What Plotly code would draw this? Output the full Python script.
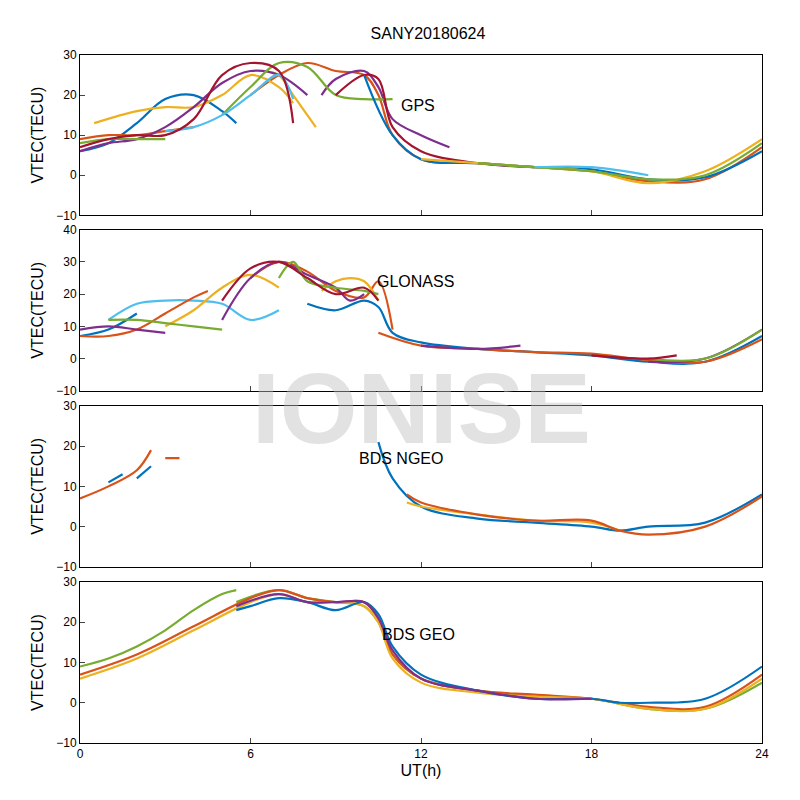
import plotly.graph_objects as go
from plotly.subplots import make_subplots

C = ["#0072BD", "#D95319", "#EDB120", "#7E2F8E", "#77AC30", "#4DBEEE", "#A2142F"]

# (color index, x hours, VTEC values)
gps_arcs = [
    (0, [0, 1, 2, 3, 4, 5, 5.5], [6, 8, 13, 19, 20, 16, 13]),
    (1, [0, 1, 2, 3, 4], [9, 10, 10, 11, 12]),
    (1, [6, 7, 8, 9, 10, 10.5, 11, 12, 14, 16, 18, 20, 22, 24], [20, 25, 28, 26, 25, 20, 10, 4, 3, 2, 1, -1.5, -1, 7]),
    (2, [0.5, 2, 3, 4, 5, 6, 7, 7.5], [13, 16, 17, 17, 20, 25, 22, 18]),
    (2, [6.5, 7, 7.5, 8, 8.3], [26, 25, 20, 15, 12]),
    (3, [0, 1, 2, 3, 4, 5, 6, 7, 8], [6, 8, 9, 12, 17, 23, 26, 25, 20]),
    (3, [8.5, 9, 10, 10.5, 11, 12, 13], [20, 24, 26, 22, 14, 10, 7]),
    (4, [0, 1, 2, 3], [8, 9, 9, 9]),
    (4, [5, 6, 7, 8, 9, 10, 11], [15, 22, 28, 27, 20, 19, 19]),
    (5, [3, 4, 5, 6, 7, 7.5], [11, 12, 15, 20, 25, 19]),
    (6, [0, 1, 2, 3, 4, 5, 6, 7, 7.5], [7, 9, 10, 10, 14, 25, 28, 26, 13]),
    (6, [9, 10, 10.5, 11, 12, 14, 16], [20, 25, 24, 12, 6, 3, 2]),
    (0, [10, 11, 12, 14, 16, 18, 20, 22, 24], [25, 10, 4, 3, 2, 1.5, -1, -0.5, 6]),
    (2, [12, 14, 16, 18, 20, 22, 24], [4, 3, 2, 1, -2, 1, 9]),
    (4, [14, 16, 18, 20, 22, 24], [3, 2, 1, -1, 0, 8]),
    (5, [16, 18, 20], [2, 2, 0]),
]
glo_arcs = [
    (0, [0, 1, 2], [7, 9, 14]),
    (0, [8, 9, 10, 10.5, 11, 12, 14, 16, 18, 20, 22, 24], [17, 15, 18, 16, 8, 5, 3, 2, 1, -1, -1, 7]),
    (5, [1, 2, 3, 4, 5, 6, 7], [12, 17, 18, 18, 17, 12, 15]),
    (1, [0, 1, 2, 3, 4, 4.5], [7, 7, 9, 14, 19, 21]),
    (1, [6, 7, 8, 9, 10, 10.5, 11], [25, 30, 27, 21, 19, 24, 9]),
    (1, [10.5, 12, 14, 16, 18, 20, 22, 24], [8, 4, 3, 2, 1.5, -0.5, -1, 6]),
    (2, [3, 4, 5, 6, 7], [10, 15, 22, 26, 22]),
    (2, [8.5, 9, 9.5, 10, 10.5], [21, 24, 25, 24, 18]),
    (3, [0, 1, 2, 3], [9, 10, 9, 8]),
    (3, [5, 6, 7, 8, 9, 9.5, 10], [12, 25, 30, 26, 22, 18, 20]),
    (3, [12, 14, 15.5], [4, 3, 4]),
    (3, [20, 22, 24], [-1, 0, 9]),
    (4, [1, 2, 3, 4, 5], [12, 12, 11, 10, 9]),
    (4, [7, 7.5, 8, 9, 10, 10.5], [25, 30, 24, 22, 21, 20]),
    (4, [20, 22, 24], [0, 0, 9]),
    (6, [5, 6, 7, 8, 9, 10, 10.5], [18, 28, 30, 25, 20, 22, 18]),
    (6, [18, 20, 21], [1, 0, 1]),
]
ngeo_arcs = [
    (1, [0, 1, 2, 2.5], [7, 10, 14, 19]),
    (1, [3, 3.5], [17, 17]),
    (0, [1, 1.5], [11, 13]),
    (0, [2, 2.5], [12, 15]),
    (0, [10.5, 11, 12, 14, 16, 18, 19, 20, 22, 24], [21, 12, 5, 2, 1, 0, -1, 0, 1, 8]),
    (2, [11.5, 12, 14, 16, 18, 19], [6, 5, 3, 1.5, 1, -1]),
    (1, [11.5, 12, 14, 16, 18, 19, 20, 22, 24], [8, 6, 3, 1.5, 1.5, -1, -2, 0, 7.5]),
]
geo_arcs = [
    (4, [0, 1, 2, 3, 4, 5, 5.5], [9, 11, 14, 18, 23, 27, 28]),
    (4, [5.5, 7, 8, 9, 10, 10.5, 11, 12, 14, 16, 18, 20, 22, 24], [25, 28, 26, 25, 24, 20, 12, 6, 3, 1.5, 1, -1.5, -1.5, 5]),
    (1, [0, 2, 4, 6, 7, 8, 9, 10, 10.5, 11, 12, 14, 16, 18, 20, 22, 24], [7, 12, 19, 26, 28, 26, 25, 25, 21, 12, 6, 3, 2, 1, -1, -1, 7]),
    (2, [0, 2, 4, 6, 7, 8, 9, 10, 10.5, 11, 12, 14, 16, 18, 20, 22, 24], [6, 11, 18, 25, 27, 25, 25, 24, 20, 11, 5, 2.5, 1.5, 1, -1.5, -1.5, 6]),
    (0, [5.5, 6, 7, 8, 9, 10, 10.5, 11, 12, 14, 16, 18, 19, 20, 22, 24], [23, 24, 26, 25, 23, 25, 22, 14, 7, 3, 1, 1, 0, 0, 1, 9]),
    (3, [5.5, 7, 8, 9, 10, 10.5, 11, 12, 14, 16, 18], [24, 27, 25, 25, 25, 21, 13, 6, 3, 1, 1]),
]
panels = [("GPS", gps_arcs, [-10, 30], [-10, 0, 10, 20, 30], 11.9, 17.5),
          ("GLONASS", glo_arcs, [-10, 40], [-10, 0, 10, 20, 30, 40], 11.8, 24),
          ("BDS NGEO", ngeo_arcs, [-10, 30], [-10, 0, 10, 20, 30], 11.3, 17),
          ("BDS GEO", geo_arcs, [-10, 30], [-10, 0, 10, 20, 30], 11.9, 17)]

fig = make_subplots(rows=4, cols=1)
doms = [[0.767, 1.0], [0.512, 0.746], [0.256, 0.490], [0.0, 0.234]]
for i, (name, arcs, yr, yt, ax, ay) in enumerate(panels):
    r = i + 1
    for ci, xs, ys in arcs:
        fig.add_trace(go.Scatter(x=xs, y=ys, mode="lines", line=dict(color=C[ci], width=2.2, shape="spline"),
                                 showlegend=False), row=r, col=1)
    fig.update_yaxes(range=yr, tickvals=yt, domain=doms[i], title_text="VTEC(TECU)", row=r, col=1)
    fig.update_xaxes(range=[0, 24], tickvals=[0, 6, 12, 18, 24], showticklabels=(r == 4), row=r, col=1)
    fig.add_annotation(x=ax, y=ay, text=name, showarrow=False, xref=f"x{r if r > 1 else ''}",
                       yref=f"y{r if r > 1 else ''}", font=dict(size=16, color="black"))

fig.update_xaxes(showline=True, mirror=True, linecolor="black", linewidth=1, ticks="inside", ticklen=5,
                 showgrid=False, zeroline=False, tickfont=dict(size=12, color="black"))
fig.update_yaxes(showline=True, mirror=True, linecolor="black", linewidth=1, ticks="inside", ticklen=5,
                 showgrid=False, zeroline=False, tickfont=dict(size=12, color="black"),
                 title_font=dict(size=16, color="black"), title_standoff=8)
fig.update_xaxes(title_text="UT(h)", title_font=dict(size=16, color="black"), title_standoff=4, row=4, col=1)
fig.add_annotation(x=0.5, y=0.487, xref="paper", yref="paper", text="<b>IONISE</b>", showarrow=False,
                   font=dict(size=100, color="rgba(190,190,190,0.45)", family="Liberation Sans"))
fig.update_layout(width=800, height=800, margin=dict(l=72, r=46, t=47, b=65),
                  plot_bgcolor="white", paper_bgcolor="white",
                  font=dict(family="Liberation Sans"),
                  title=dict(text="SANY20180624", x=0.525, y=0.975, xanchor="center",
                             font=dict(size=16, color="black")))
fig.write_html("out.html")
